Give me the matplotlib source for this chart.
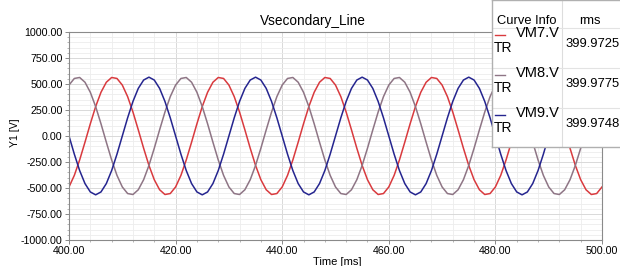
import matplotlib
matplotlib.use('Agg')
import matplotlib.pyplot as plt
from matplotlib.ticker import MultipleLocator, FormatStrFormatter

plt.rcParams['font.family'] = ['Liberation Sans', 'DejaVu Sans']

# sample times [ms], 1 ms step
t_ms = list(range(400, 501))

# VM7.V (red)
vm7 = [-489.9, -378.5, -230.1, -59.1, 117.6, 282.9, 420.4, 516.8, 562.6, 553.3,
       489.9, 378.5, 230.1, 59.1, -117.6, -282.9, -420.4, -516.8, -562.6, -553.3,
       -489.9, -378.5, -230.1, -59.1, 117.6, 282.9, 420.4, 516.8, 562.6, 553.3,
       489.9, 378.5, 230.1, 59.1, -117.6, -282.9, -420.4, -516.8, -562.6, -553.3,
       -489.9, -378.5, -230.1, -59.1, 117.6, 282.9, 420.4, 516.8, 562.6, 553.3,
       489.9, 378.5, 230.1, 59.1, -117.6, -282.9, -420.4, -516.8, -562.6, -553.3,
       -489.9, -378.5, -230.1, -59.1, 117.6, 282.9, 420.4, 516.8, 562.6, 553.3,
       489.9, 378.5, 230.1, 59.1, -117.6, -282.9, -420.4, -516.8, -562.6, -553.3,
       -489.9, -378.5, -230.1, -59.1, 117.6, 282.9, 420.4, 516.8, 562.6, 553.3,
       489.9, 378.5, 230.1, 59.1, -117.6, -282.9, -420.4, -516.8, -562.6, -553.3,
       -489.9]

# VM8.V (grey)
vm8 = [489.9, 553.3, 562.6, 516.8, 420.4, 282.9, 117.6, -59.1, -230.1, -378.5,
       -489.9, -553.3, -562.6, -516.8, -420.4, -282.9, -117.6, 59.1, 230.1, 378.5,
       489.9, 553.3, 562.6, 516.8, 420.4, 282.9, 117.6, -59.1, -230.1, -378.5,
       -489.9, -553.3, -562.6, -516.8, -420.4, -282.9, -117.6, 59.1, 230.1, 378.5,
       489.9, 553.3, 562.6, 516.8, 420.4, 282.9, 117.6, -59.1, -230.1, -378.5,
       -489.9, -553.3, -562.6, -516.8, -420.4, -282.9, -117.6, 59.1, 230.1, 378.5,
       489.9, 553.3, 562.6, 516.8, 420.4, 282.9, 117.6, -59.1, -230.1, -378.5,
       -489.9, -553.3, -562.6, -516.8, -420.4, -282.9, -117.6, 59.1, 230.1, 378.5,
       489.9, 553.3, 562.6, 516.8, 420.4, 282.9, 117.6, -59.1, -230.1, -378.5,
       -489.9, -553.3, -562.6, -516.8, -420.4, -282.9, -117.6, 59.1, 230.1, 378.5,
       489.9]

# VM9.V (blue)
vm9 = [0.0, -174.8, -332.5, -457.7, -538.0, -565.7, -538.0, -457.7, -332.5, -174.8,
       0.0, 174.8, 332.5, 457.7, 538.0, 565.7, 538.0, 457.7, 332.5, 174.8,
       0.0, -174.8, -332.5, -457.7, -538.0, -565.7, -538.0, -457.7, -332.5, -174.8,
       0.0, 174.8, 332.5, 457.7, 538.0, 565.7, 538.0, 457.7, 332.5, 174.8,
       0.0, -174.8, -332.5, -457.7, -538.0, -565.7, -538.0, -457.7, -332.5, -174.8,
       0.0, 174.8, 332.5, 457.7, 538.0, 565.7, 538.0, 457.7, 332.5, 174.8,
       0.0, -174.8, -332.5, -457.7, -538.0, -565.7, -538.0, -457.7, -332.5, -174.8,
       0.0, 174.8, 332.5, 457.7, 538.0, 565.7, 538.0, 457.7, 332.5, 174.8,
       0.0, -174.8, -332.5, -457.7, -538.0, -565.7, -538.0, -457.7, -332.5, -174.8,
       0.0, 174.8, 332.5, 457.7, 538.0, 565.7, 538.0, 457.7, 332.5, 174.8,
       0.0]

names = ['VM7.V', 'VM8.V', 'VM9.V']
rms = ['399.9725', '399.9775', '399.9748']
colors = ['#d93a3e', '#8e7585', '#25258f']

W, H = 620, 266
fig = plt.figure(figsize=(W / 100, H / 100), dpi=100)
ax = fig.add_axes([69 / W, 1 - 240 / H, (602 - 69) / W, (240 - 32) / H])

for y, c in zip([vm7, vm8, vm9], colors):
    ax.plot(t_ms, y, color=c, lw=1.1)

ax.set_xlim(400, 500)
ax.set_ylim(-1000, 1000)
ax.xaxis.set_major_locator(MultipleLocator(20))
ax.xaxis.set_minor_locator(MultipleLocator(4))
ax.yaxis.set_major_locator(MultipleLocator(250))
ax.yaxis.set_minor_locator(MultipleLocator(50))
ax.xaxis.set_major_formatter(FormatStrFormatter('%.2f'))
ax.yaxis.set_major_formatter(FormatStrFormatter('%.2f'))
ax.grid(which='major', color='#d9d9d9', lw=0.7)
ax.grid(which='minor', color='#ededed', lw=0.6)
ax.set_axisbelow(True)
ax.tick_params(which='major', labelsize=7.7, length=3, width=0.6, color='#777777', pad=1.5)
ax.tick_params(which='minor', length=1.5, width=0.5, color='#999999')
for s in ax.spines.values():
    s.set_color('#8a8a8a')
    s.set_linewidth(0.8)

fig.text(313 / W, 1 - 21 / H, 'Vsecondary_Line', ha='center', va='center', fontsize=9.8)
fig.text(15 / W, 1 - 133 / H, 'Y1 [V]', ha='center', va='center', rotation=90, fontsize=7.5)
fig.text(337 / W, 1 - 262 / H, 'Time [ms]', ha='center', va='center', fontsize=8)

# curve info table
lg = fig.add_axes([492 / W, 1 - 147 / H, (640 - 492) / W, 147 / H])
lg.set_xlim(492, 640)
lg.set_ylim(147, 0)
lg.set_xticks([])
lg.set_yticks([])
lg.set_facecolor('white')
for s in lg.spines.values():
    s.set_color('#b0b0b0')
    s.set_linewidth(1.0)
lg.axvline(562, color='#dddddd', lw=0.8)
for yy in [28, 68, 108]:
    lg.axhline(yy, color='#e3e3e3', lw=0.8)
lg.text(497, 21, 'Curve Info', ha='left', va='center', fontsize=9.3)
lg.text(590, 21, 'rms', ha='center', va='center', fontsize=9.3)
rows_top = [28, 68, 108]
for top, nm, c, r in zip(rows_top, names, colors, rms):
    lg.plot([495, 505], [top + 7, top + 7], color=c, lw=1.0)
    lg.text(516, top + 5, nm, ha='left', va='center', fontsize=10.5)
    lg.text(494, top + 20, 'TR', ha='left', va='center', fontsize=10)
    lg.text(565, top + 16, r, ha='left', va='center', fontsize=9.4)

fig.savefig('out.png', dpi=100)
